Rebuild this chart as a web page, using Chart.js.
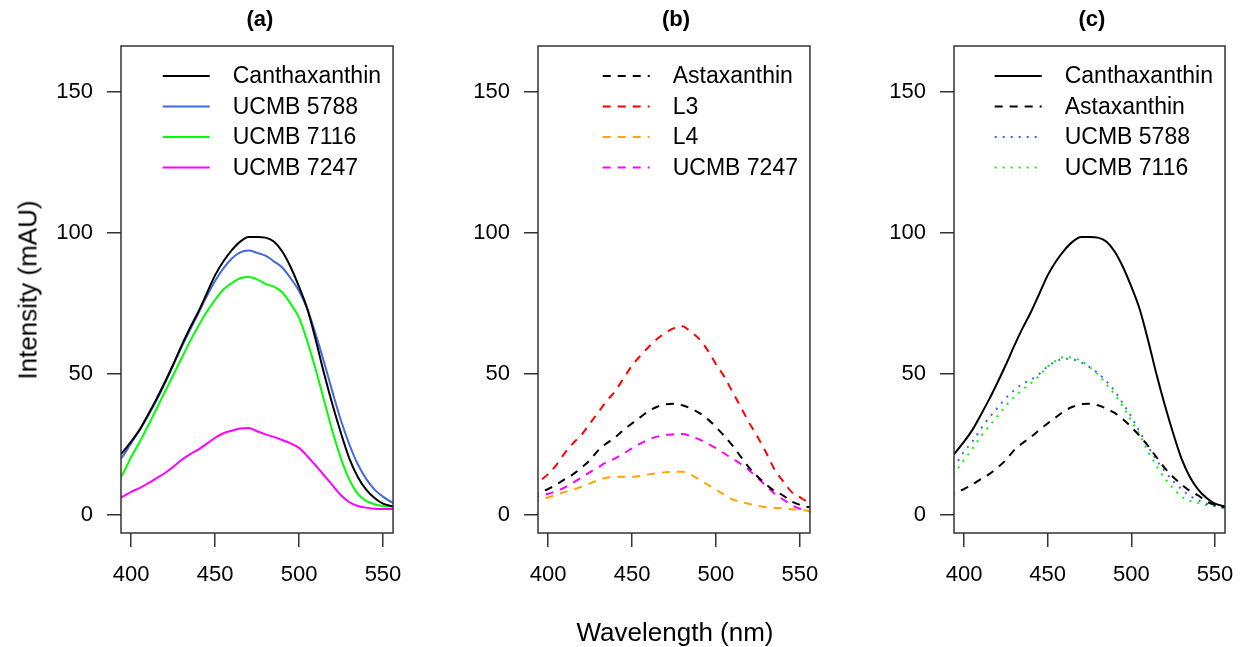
<!DOCTYPE html>
<html>
<head>
<meta charset="utf-8">
<script src="https://cdn.jsdelivr.net/npm/chart.js@4.4.0/dist/chart.umd.min.js"></script>
<style>
    body { margin: 0; background: #fff; font-family: "Liberation Sans", Arial, sans-serif; }
    #wrap { position: relative; width: 1249px; height: 647px; overflow: hidden; }
    canvas { position: absolute; top: 0; }
    .ttl { position: absolute; top: 6px; font-weight: bold; font-size: 22px; text-align: center; width: 100px; }
    .axlab { position: absolute; font-size: 26px; white-space: nowrap; }
</style>
</head>
<body>
<div id="wrap">
    <canvas id="chartA" width="417" height="647" style="left:0px"></canvas>
    <canvas id="chartB" width="417" height="647" style="left:417px"></canvas>
    <canvas id="chartC" width="415" height="647" style="left:834px"></canvas>
    <div class="ttl" style="left:210px">(a)</div>
    <div class="ttl" style="left:626px">(b)</div>
    <div class="ttl" style="left:1042px">(c)</div>
    <div class="axlab" style="left:675px; top:632px; transform:translate(-50%,-50%)">Wavelength (nm)</div>
    <div class="axlab" style="left:28px; top:290px; transform:translate(-50%,-50%) rotate(-90deg)">Intensity (mAU)</div>
</div>
<script>
// wavelength grid (nm)
const WAVELENGTH = [390, 395, 400, 405, 410, 415, 420, 425, 430, 435, 440, 445, 450, 455, 460, 465, 470,
    475, 480, 485, 490, 495, 500, 505, 510, 515, 520, 525, 530, 535, 540, 545, 550, 555, 560];

const X_TICKS = [400, 450, 500, 550];
const Y_TICKS = [0, 50, 100, 150];

// panel (a)
const CANTHAXANTHIN = [19.5, 22.3, 26, 30.2, 35.5, 41, 47, 53.3, 60, 66.3, 72, 78.5, 85, 90, 94, 97, 98.6,
    98.6, 98.4, 97, 93.5, 88, 81, 73, 62, 50, 39, 29, 20, 13.5, 9, 6, 4, 3.2, 2.8];
const UCMB5788 = [18, 20.8, 25.5, 30, 35, 40.5, 46.5, 53, 59.5, 65.5, 71.5, 77.5, 83, 87.5, 91, 93.2, 93.8,
    93, 92, 90, 87.8, 84, 79.5, 73, 64, 54, 43.5, 33.5, 25, 18, 12.8, 9, 6.5, 4.6, 3.5];
const UCMB7116 = [11, 14.5, 20.5, 25.8, 31.5, 37.5, 43.5, 49.5, 55.5, 61.5, 67, 72, 76.3, 80, 82.3, 84, 84.4,
    83.6, 82, 81, 79, 75, 70, 61.5, 51.5, 40.5, 29.5, 20, 12.5, 7.5, 5, 3.8, 3.2, 3.0, 3.0];
const UCMB7247 = [5.5, 6.5, 8.2, 9.5, 11.2, 13, 14.8, 17, 19.5, 21.5, 23.2, 25.2, 27.4, 29, 29.9, 30.7, 30.9,
    29.7, 28.6, 27.7, 26.6, 25.4, 23.8, 20.8, 17.5, 14, 10.5, 7, 4.5, 3.2, 2.6, 2.2, 2.1, 2.1, 2.1];

// panel (b)
const ASTAXANTHIN = [6.5, 8, 9.2, 10.8, 12.7, 14.5, 16.8, 19.5, 23, 25.5, 27.6, 30.2, 32.5, 34.7, 36.9, 38.4, 39.3,
    39.5, 38.9, 37.8, 36.2, 34, 31.2, 28, 24.5, 20.5, 16.6, 13.5, 10.8, 8.5, 6.9, 4.8, 3.6, 2.8, 2.5];
const L3 = [9, 12, 14.5, 17.8, 22, 25.5, 28.5, 32.5, 36.5, 40.5, 44, 48.5, 53, 56.5, 59.7, 62.5, 64.6,
    66.3, 67, 65, 62.5, 58.5, 53.5, 49, 43.5, 38, 32.5, 27.5, 22, 16, 12, 8.2, 6.3, 4.5, 3.5];
const L4 = [4.5, 5.2, 6.2, 7.2, 8.2, 9, 10, 11.2, 12.4, 13.2, 13.6, 13.6, 13.5, 13.8, 14.4, 14.8, 15.2,
    15.3, 15.3, 14.3, 12.6, 10.8, 9, 7.2, 5.5, 4.6, 3.9, 3.2, 2.7, 2.5, 2.3, 2.0, 1.8, 1.5, 1.4];
const UCMB7247_B = [6, 6.8, 7.5, 8.5, 9.8, 11.5, 13.3, 15.2, 17, 18.8, 20.1, 21.8, 23.6, 25.3, 26.8, 27.8, 28.4,
    28.6, 28.7, 28, 26.8, 25.3, 23.7, 21.8, 20, 18, 15.7, 13, 10.2, 7.5, 5.5, 3.5, 2.2, 1.4, 1];

// panel (c)
const UCMB5788_C = [15, 18, 22.5, 26, 30.5, 34.5, 38, 41.5, 44.3, 46.5, 48, 50, 52.7, 54.5, 55.4, 55.2, 54.2,
    52.5, 50.3, 47.5, 44, 39.5, 34.8, 29.5, 24.3, 19.5, 15.5, 12, 9.2, 6.8, 5.2, 4, 3.2, 2.5, 2.2];
const UCMB7116_C = [12.5, 15.5, 19.5, 23.5, 27.8, 31.5, 35, 38.8, 41.8, 44.5, 46.7, 49.5, 52.7, 54.8, 56, 55.8, 54.6,
    52.5, 49.8, 46.5, 42.8, 38.5, 33.5, 28.5, 22.5, 17.5, 13, 9.5, 6.5, 5, 4.2, 3.5, 3.1, 2.7, 2.5];

const AXIS_COLOR = "#333";
const FONT = "Liberation Sans, Arial, sans-serif";
const SOLID = [];
const DASHED = [8, 7];
const DOTTED = [2, 6];

function series(label, values, color, dash) {
    return {
        label,
        data: WAVELENGTH.map((x, i) => ({ x, y: values[i] })),
        borderColor: color,
        borderWidth: 2,
        borderDash: dash,
        pointRadius: 0,
        cubicInterpolationMode: "monotone",
        clip: 0,
    };
}

// box around the plotting region, like R's box()
const boxPlugin = {
    id: "box",
    afterDraw(chart) {
        const a = chart.chartArea;
        const ctx = chart.ctx;
        ctx.save();
        ctx.strokeStyle = AXIS_COLOR;
        ctx.lineWidth = 1.5;
        ctx.strokeRect(a.left, a.top, a.right - a.left, a.bottom - a.top);
        ctx.restore();
    },
};

// top-right legend without a frame
const legendPlugin = {
    id: "rlegend",
    afterDraw(chart) {
        const a = chart.chartArea;
        const ctx = chart.ctx;
        const sets = chart.data.datasets;
        ctx.save();
        ctx.font = "23px " + FONT;
        const maxW = Math.max(...sets.map((d) => ctx.measureText(d.label).width));
        const textX = a.right - 12 - maxW;
        const lineEnd = textX - 23;
        const lineStart = lineEnd - 47;
        sets.forEach((d, i) => {
            const y = a.top + 30 + i * 30.5;
            ctx.strokeStyle = d.borderColor;
            ctx.lineWidth = 2;
            ctx.setLineDash(d.borderDash);
            ctx.beginPath();
            ctx.moveTo(lineStart, y);
            ctx.lineTo(lineEnd, y);
            ctx.stroke();
            ctx.setLineDash([]);
            ctx.fillStyle = "#000";
            ctx.textBaseline = "middle";
            ctx.textAlign = "left";
            ctx.fillText(d.label, textX, y + 1);
        });
        ctx.restore();
    },
};

function makePanel(id, datasets, padRight) {
    return new Chart(document.getElementById(id), {
        type: "line",
        data: { datasets },
        options: {
            responsive: false,
            animation: false,
            devicePixelRatio: 1,
            layout: { padding: { top: 46, right: padRight, left: 0, bottom: 0 } },
            plugins: { legend: { display: false }, tooltip: { enabled: false } },
            scales: {
                x: {
                    type: "linear",
                    min: 394,
                    max: 556,
                    afterBuildTicks: (s) => { s.ticks = X_TICKS.map((v) => ({ value: v })); },
                    afterFit: (s) => { s.height = 114; },
                    ticks: { color: "#000", font: { family: FONT, size: 22 }, padding: 15, maxRotation: 0 },
                    grid: { drawOnChartArea: false, drawTicks: true, tickLength: 14, color: AXIS_COLOR, lineWidth: 1.5 },
                    border: { display: false },
                },
                y: {
                    min: -6.4,
                    max: 166.4,
                    afterBuildTicks: (s) => { s.ticks = Y_TICKS.map((v) => ({ value: v })); },
                    afterFit: (s) => { s.width = id === "chartC" ? 120 : 121; },
                    ticks: { color: "#000", font: { family: FONT, size: 22 }, padding: 14 },
                    grid: { drawOnChartArea: false, drawTicks: true, tickLength: 14, color: AXIS_COLOR, lineWidth: 1.5 },
                    border: { display: false },
                },
            },
        },
        plugins: [boxPlugin, legendPlugin],
    });
}

makePanel("chartA", [
    series("Canthaxanthin", CANTHAXANTHIN, "#000000", SOLID),
    series("UCMB 5788", UCMB5788, "#4169E1", SOLID),
    series("UCMB 7116", UCMB7116, "#00FF00", SOLID),
    series("UCMB 7247", UCMB7247, "#FF00FF", SOLID),
], 18);

makePanel("chartB", [
    series("Astaxanthin", ASTAXANTHIN, "#000000", DASHED),
    series("L3", L3, "#FF0000", DASHED),
    series("L4", L4, "#FFA500", DASHED),
    series("UCMB 7247", UCMB7247_B, "#FF00FF", DASHED),
], 20);

makePanel("chartC", [
    series("Canthaxanthin", CANTHAXANTHIN, "#000000", SOLID),
    series("Astaxanthin", ASTAXANTHIN, "#000000", DASHED),
    series("UCMB 5788", UCMB5788_C, "#4169E1", DOTTED),
    series("UCMB 7116", UCMB7116_C, "#00FF00", DOTTED),
], 18);
</script>
</body>
</html>
